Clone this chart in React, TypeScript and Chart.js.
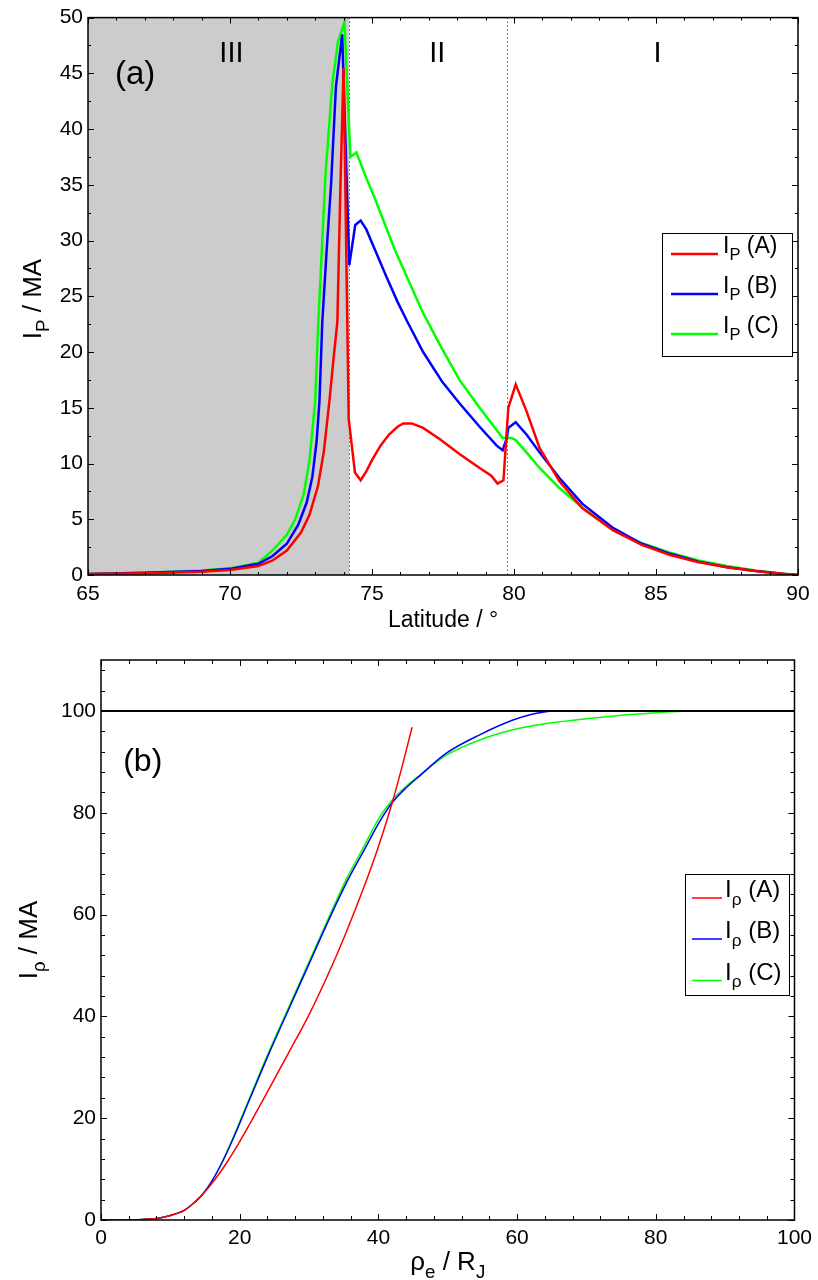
import React, { useEffect, useRef } from 'react';
import { Chart, registerables } from 'chart.js';

Chart.register(...registerables);

const FONT = '"Liberation Sans", Arial, Helvetica, sans-serif';
const RED = '#ff0000';
const BLUE = '#0000ff';
const GREEN = '#00ff00';

// ---------- Panel (a): I_P vs latitude ----------
const latA = [65, 67, 69, 70, 71, 71.5, 72, 72.5, 72.8, 73.1, 73.3, 73.5, 73.65, 73.78, 73.89, 74.0, 74.18, 74.4, 74.6, 74.8, 75.0, 75.3, 75.6, 75.9, 76.1, 76.4, 76.8, 77.38, 78.08, 78.79, 79.2, 79.42, 79.63, 79.8, 80.06, 80.44, 80.9, 81.6, 82.4, 83.5, 84.5, 85.5, 86.5, 87.5, 88.5, 89.5, 90];
const ipA = [0.1, 0.15, 0.3, 0.45, 0.8, 1.3, 2.2, 3.8, 5.4, 8.0, 11.0, 15.6, 19.5, 22.7, 35.1, 45.5, 14, 9.2, 8.5, 9.3, 10.3, 11.6, 12.6, 13.3, 13.6, 13.6, 13.2, 12.2, 10.85, 9.6, 8.9, 8.2, 8.5, 15, 17.1, 14.7, 11.4, 8.4, 6.0, 4.0, 2.7, 1.8, 1.15, 0.7, 0.35, 0.1, 0];

const latB = [65, 67, 69, 70, 71, 71.5, 72, 72.4, 72.7, 72.9, 73.05, 73.15, 73.25, 73.4, 73.56, 73.73, 73.95, 74.2, 74.41, 74.6, 74.8, 75.1, 75.5, 75.9, 76.25, 76.8, 77.48, 78.08, 78.79, 79.39, 79.6, 79.74, 79.8, 80.06, 80.44, 80.9, 81.6, 82.4, 83.5, 84.5, 85.5, 86.5, 87.5, 88.5, 89.5, 90];
const ipB = [0.1, 0.2, 0.35, 0.55, 1.0, 1.7, 2.8, 4.5, 6.5, 8.8, 12.0, 15.6, 22.7, 29, 35.1, 43.8, 48.5, 27.8, 31.4, 31.8, 31.0, 29.2, 26.8, 24.5, 22.7, 20.0, 17.3, 15.4, 13.3, 11.6, 11.2, 12.2, 13.2, 13.7, 12.6, 11.0, 8.7, 6.4, 4.2, 2.8, 1.9, 1.2, 0.7, 0.35, 0.1, 0];

const latC = [65, 67, 69, 70, 71, 71.5, 72, 72.3, 72.6, 72.8, 73.0, 73.11, 73.25, 73.36, 73.6, 73.8, 74.03, 74.24, 74.45, 74.8, 75.08, 75.8, 76.78, 77.4, 78.08, 78.79, 79.3, 79.6, 79.77, 79.9, 80.06, 80.44, 80.9, 81.6, 82.4, 83.5, 84.5, 85.5, 86.5, 87.5, 88.5, 89.5, 90];
const ipC = [0.1, 0.2, 0.4, 0.6, 1.1, 2.2, 3.6, 5.0, 7.3, 10.3, 15.6, 22.7, 30, 35.8, 44, 47.8, 49.6, 37.5, 37.9, 35.6, 33.9, 29.2, 23.6, 20.6, 17.5, 15.0, 13.3, 12.3, 12.3, 12.3, 12.1, 11.0, 9.6, 7.8, 6.05, 4.0, 2.85, 2.0, 1.3, 0.8, 0.4, 0.12, 0];

const regionBounds = [74.2, 79.75];
const regionLabels = ['III', 'II', 'I'];
const regionLabelLat = [70.05, 77.3, 85.05];
const regionLabelLevel = 46.0;
const panelALabelPos = [65.95, 44.0];

// ---------- Panel (b): I_rho vs rho_e ----------
const rhoA = [0, 4, 6, 8, 10, 12, 13, 14.5, 16.4, 18, 20, 23.9, 27, 30.1, 33, 35.2, 38.3, 40, 42, 43.5, 44.86];
const irA = [0, 0, 0.1, 0.3, 0.9, 1.9, 2.9, 4.8, 7.9, 11.0, 15.4, 24.9, 32.7, 40.6, 49.0, 56.0, 66.8, 73.3, 82.0, 89.5, 96.8];

const rhoB = [0, 4, 6, 8, 10, 12, 13, 14.5, 16.1, 17.5, 19, 21.5, 24, 27, 30, 33, 35.6, 38, 40.2, 42, 44, 46, 49.8, 54.6, 59.4, 62, 64.8];
const irB = [0, 0, 0.1, 0.3, 0.9, 1.9, 2.9, 4.8, 7.9, 11.4, 15.8, 23.9, 32.0, 41.2, 50.3, 59.4, 66.8, 72.8, 78.3, 82.0, 84.9, 87.3, 91.7, 95.3, 98.2, 99.3, 100];

const rhoC = [0, 4, 6, 8, 10, 12, 13, 14.5, 16.1, 17.5, 19, 21.5, 24, 26.75, 30, 33, 35.4, 38, 40.2, 42, 44, 46, 49.8, 54.6, 59.4, 64, 69, 74, 78.6, 82, 84.6];
const irC = [0, 0, 0.1, 0.3, 0.9, 1.9, 2.9, 4.8, 7.9, 11.5, 16.0, 24.2, 32.4, 40.8, 50.7, 59.9, 67.0, 73.6, 79.2, 82.5, 85.2, 87.4, 91.3, 94.3, 96.3, 97.5, 98.3, 99.0, 99.5, 99.85, 100];

const saturationRho = [0, 100];
const saturationI = [100, 100];
const panelBLabelPos = [3.2, 88.2];

const seriesLabels = ['(A)', '(B)', '(C)'];
const seriesColors = [RED, BLUE, GREEN];

type Seg = { t: string; sub?: boolean };

const zip = (xs: number[], ys: number[]) => xs.map((x, i) => ({ x, y: ys[i] }));

function segWidth(ctx: CanvasRenderingContext2D, segs: Seg[], size: number) {
  let w = 0;
  segs.forEach((s) => {
    ctx.font = `${s.sub ? size * 0.72 : size}px ${FONT}`;
    w += ctx.measureText(s.t).width;
  });
  return w;
}

function drawRich(ctx: CanvasRenderingContext2D, segs: Seg[], x: number, y: number, size: number, align: 'left' | 'center') {
  const w = segWidth(ctx, segs, size);
  let cx = align === 'center' ? x - w / 2 : x;
  ctx.textAlign = 'left';
  ctx.textBaseline = 'alphabetic';
  ctx.fillStyle = '#000';
  segs.forEach((s) => {
    const fs = s.sub ? size * 0.72 : size;
    ctx.font = `${fs}px ${FONT}`;
    ctx.fillText(s.t, cx, s.sub ? y + size * 0.32 : y);
    cx += ctx.measureText(s.t).width;
  });
}

function drawFrame(chart: any, xMinor: number, xMajor: number, yMinor: number, yMajor: number, majLen: number, minLen: number) {
  const { ctx, chartArea } = chart;
  const { left, right, top, bottom } = chartArea;
  const xs = chart.scales.x;
  const ys = chart.scales.y;
  const isMajor = (v: number, m: number) => Math.abs(v / m - Math.round(v / m)) < 1e-6;
  ctx.save();
  ctx.strokeStyle = '#000';
  ctx.lineWidth = 1;
  ctx.beginPath();
  for (let i = 0; xs.min + i * xMinor <= xs.max + 1e-9; i++) {
    const v = xs.min + i * xMinor;
    const p = Math.round(xs.getPixelForValue(v)) + 0.5;
    const L = isMajor(v, xMajor) ? majLen : minLen;
    ctx.moveTo(p, bottom);
    ctx.lineTo(p, bottom - L);
    ctx.moveTo(p, top);
    ctx.lineTo(p, top + L);
  }
  for (let i = 0; ys.min + i * yMinor <= ys.max + 1e-9; i++) {
    const v = ys.min + i * yMinor;
    const p = Math.round(ys.getPixelForValue(v)) + 0.5;
    const L = isMajor(v, yMajor) ? majLen : minLen;
    ctx.moveTo(left, p);
    ctx.lineTo(left + L, p);
    ctx.moveTo(right, p);
    ctx.lineTo(right - L, p);
  }
  ctx.stroke();
  ctx.lineWidth = 1.5;
  ctx.strokeRect(left, top, right - left, bottom - top);
  ctx.restore();
}

function drawLegend(
  ctx: CanvasRenderingContext2D,
  box: number[],
  rows: number[],
  lineX: number[],
  textX: number,
  sub: string,
  size: number,
  lineW: number
) {
  ctx.save();
  ctx.fillStyle = '#fff';
  ctx.fillRect(box[0], box[1], box[2], box[3]);
  ctx.strokeStyle = '#000';
  ctx.lineWidth = 1;
  ctx.strokeRect(box[0] + 0.5, box[1] + 0.5, box[2], box[3]);
  rows.forEach((ry, i) => {
    ctx.strokeStyle = seriesColors[i];
    ctx.lineWidth = lineW;
    ctx.beginPath();
    ctx.moveTo(lineX[0], ry);
    ctx.lineTo(lineX[1], ry);
    ctx.stroke();
    drawRich(ctx, [{ t: 'I' }, { t: sub, sub: true }, { t: ' ' + seriesLabels[i] }], textX, ry - 1, size, 'left');
  });
  ctx.restore();
}

function drawYTitle(ctx: CanvasRenderingContext2D, segs: Seg[], x: number, y: number, size: number) {
  ctx.save();
  ctx.translate(x, y);
  ctx.rotate(-Math.PI / 2);
  drawRich(ctx, segs, 0, 0, size, 'center');
  ctx.restore();
}

const tickFont = { family: FONT, size: 21 };

const decorA = {
  id: 'decorA',
  beforeDatasetsDraw(chart: any) {
    const { ctx, chartArea } = chart;
    const { top, bottom } = chartArea;
    const xs = chart.scales.x;
    ctx.save();
    ctx.fillStyle = '#cccccc';
    const x0 = xs.getPixelForValue(xs.min);
    const x1 = xs.getPixelForValue(regionBounds[0]);
    ctx.fillRect(x0, top, x1 - x0, bottom - top);
    ctx.strokeStyle = '#000';
    ctx.lineWidth = 1;
    ctx.setLineDash([1, 3]);
    regionBounds.forEach((b) => {
      const p = Math.round(xs.getPixelForValue(b)) + 0.5;
      ctx.beginPath();
      ctx.moveTo(p, top);
      ctx.lineTo(p, bottom);
      ctx.stroke();
    });
    ctx.restore();
  },
  afterDraw(chart: any) {
    const { ctx, chartArea } = chart;
    const xs = chart.scales.x;
    const ys = chart.scales.y;
    drawFrame(chart, 1, 5, 2.5, 5, 6, 3);
    ctx.save();
    ctx.fillStyle = '#000';
    ctx.font = `29px ${FONT}`;
    ctx.textAlign = 'center';
    ctx.textBaseline = 'alphabetic';
    regionLabels.forEach((t, i) => {
      ctx.fillText(t, xs.getPixelForValue(regionLabelLat[i]), ys.getPixelForValue(regionLabelLevel));
    });
    ctx.textAlign = 'left';
    ctx.font = `33px ${FONT}`;
    ctx.fillText('(a)', xs.getPixelForValue(panelALabelPos[0]), ys.getPixelForValue(panelALabelPos[1]));
    ctx.restore();
    drawRich(ctx, [{ t: 'Latitude / °' }], (chartArea.left + chartArea.right) / 2, 627, 23, 'center');
    drawYTitle(ctx, [{ t: 'I' }, { t: 'P', sub: true }, { t: ' / MA' }], 41, 299, 26);
    drawLegend(ctx, [662, 233, 130, 123], [254, 294, 334], [671, 718], 723, 'P', 23, 2.5);
  },
};

const decorB = {
  id: 'decorB',
  afterDraw(chart: any) {
    const { ctx, chartArea } = chart;
    const xs = chart.scales.x;
    const ys = chart.scales.y;
    drawFrame(chart, 4, 20, 4, 20, 6, 4);
    ctx.save();
    ctx.fillStyle = '#000';
    ctx.font = `32px ${FONT}`;
    ctx.textAlign = 'left';
    ctx.textBaseline = 'alphabetic';
    ctx.fillText('(b)', xs.getPixelForValue(panelBLabelPos[0]), ys.getPixelForValue(panelBLabelPos[1]));
    ctx.restore();
    drawRich(
      ctx,
      [{ t: 'ρ' }, { t: 'e', sub: true }, { t: ' / R' }, { t: 'J', sub: true }],
      (chartArea.left + chartArea.right) / 2,
      630,
      26,
      'center'
    );
    drawYTitle(ctx, [{ t: 'I' }, { t: 'ρ', sub: true }, { t: ' / MA' }], 37, 300, 26);
    drawLegend(ctx, [685, 234, 104, 121], [258, 299, 340.5], [692, 722], 725, 'ρ', 24, 1.5);
  },
};

function baseScale(min: number, max: number, step: number, fit: (s: any) => void, pad: number) {
  return {
    type: 'linear',
    min,
    max,
    afterFit: fit,
    grid: { display: false, drawTicks: false },
    border: { display: false },
    ticks: {
      stepSize: step,
      autoSkip: false,
      maxRotation: 0,
      padding: pad,
      color: '#000',
      font: tickFont,
    },
  };
}

export default function App() {
  const refA = useRef<HTMLCanvasElement>(null);
  const refB = useRef<HTMLCanvasElement>(null);

  useEffect(() => {
    const lineDs = (data: any[], color: string, w: number, smooth: boolean) => ({
      data,
      borderColor: color,
      backgroundColor: color,
      borderWidth: w,
      pointRadius: 0,
      tension: smooth ? 0.4 : 0,
      cubicInterpolationMode: smooth ? 'monotone' : 'default',
      fill: false,
    });

    const chartA = new Chart(refA.current as HTMLCanvasElement, {
      type: 'line',
      data: {
        datasets: [
          lineDs(zip(latA, ipA), RED, 2.5, false),
          lineDs(zip(latB, ipB), BLUE, 2.5, false),
          lineDs(zip(latC, ipC), GREEN, 2.5, false),
        ],
      },
      options: {
        responsive: false,
        animation: false,
        devicePixelRatio: 1,
        layout: { padding: { top: 14, right: 20, left: 0, bottom: 0 } },
        plugins: { legend: { display: false }, tooltip: { enabled: false } },
        scales: {
          x: baseScale(65, 90, 5, (s: any) => { s.height = 65; }, 7),
          y: baseScale(0, 50, 5, (s: any) => { s.width = 88; }, 5),
        } as any,
      },
      plugins: [decorA],
    } as any);

    const yB: any = baseScale(0, 110, 20, (s: any) => { s.width = 101; }, 5);
    yB.afterBuildTicks = (s: any) => {
      s.ticks = s.ticks.filter((t: any) => t.value <= 100);
    };

    const chartB = new Chart(refB.current as HTMLCanvasElement, {
      type: 'line',
      data: {
        datasets: [
          lineDs(zip(saturationRho, saturationI), '#000000', 2, false),
          lineDs(zip(rhoA, irA), RED, 1.5, true),
          lineDs(zip(rhoB, irB), BLUE, 1.5, true),
          lineDs(zip(rhoC, irC), GREEN, 1.5, true),
        ],
      },
      options: {
        responsive: false,
        animation: false,
        devicePixelRatio: 1,
        layout: { padding: { top: 20, right: 23, left: 0, bottom: 0 } },
        plugins: { legend: { display: false }, tooltip: { enabled: false } },
        scales: {
          x: baseScale(0, 100, 20, (s: any) => { s.height = 60; }, 6),
          y: yB,
        } as any,
      },
      plugins: [decorB],
    } as any);

    return () => {
      chartA.destroy();
      chartB.destroy();
    };
  }, []);

  return (
    <div style={{ position: 'absolute', left: 0, top: 0, width: 818, height: 1280, background: '#fff' }}>
      <canvas ref={refA} width={818} height={640} style={{ display: 'block', width: 818, height: 640 }} />
      <canvas ref={refB} width={818} height={640} style={{ display: 'block', width: 818, height: 640 }} />
    </div>
  );
}
